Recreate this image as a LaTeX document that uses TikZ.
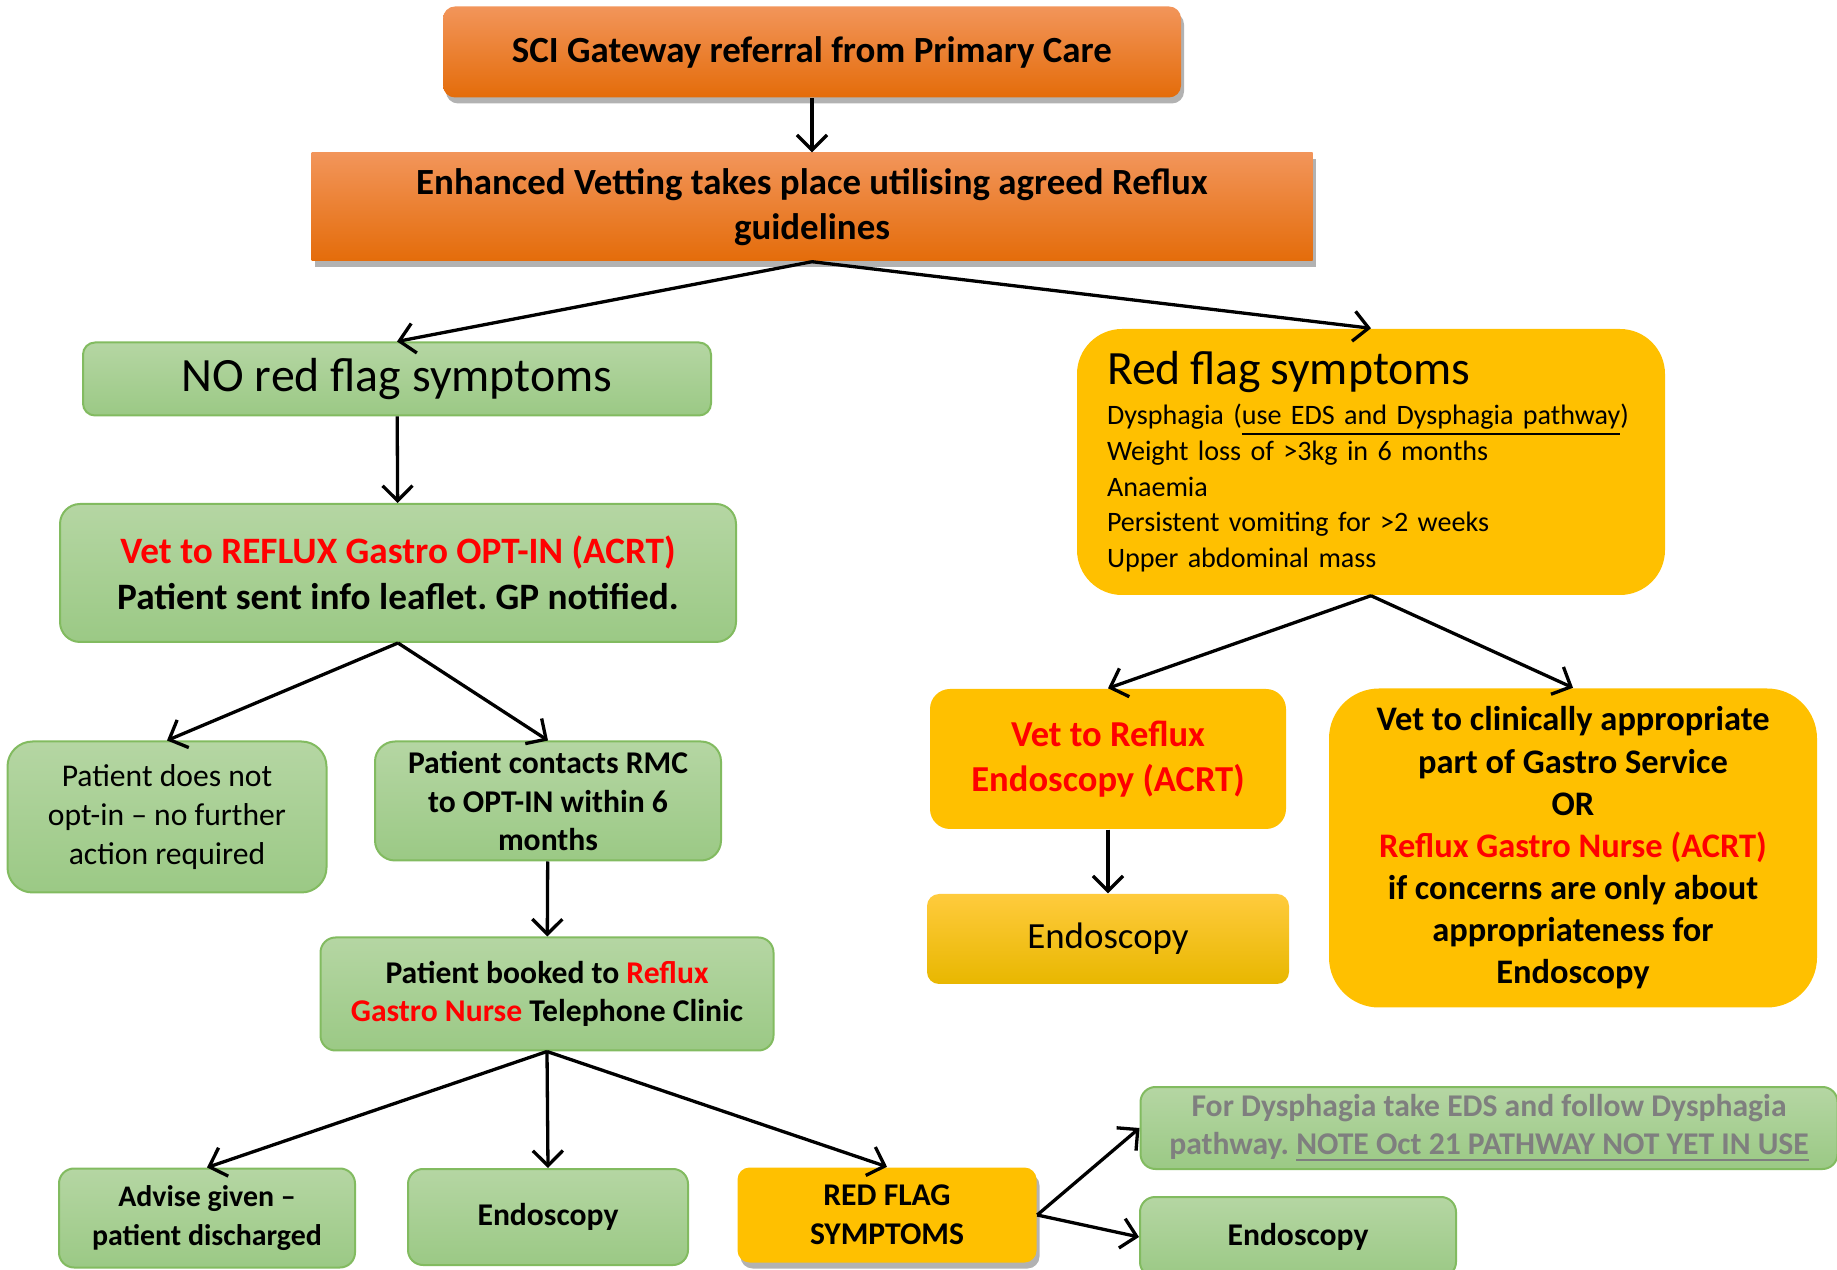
\documentclass[tikz,border=0pt]{standalone}
\usepackage{fontspec}
\setmainfont{Carlito}
\frenchspacing
\usetikzlibrary{arrows.meta,shadows}

\definecolor{orangetop}{HTML}{F2955A}
\definecolor{orangebot}{HTML}{E46C0A}
\definecolor{greentop}{HTML}{B5D6A3}
\definecolor{greenbot}{HTML}{9BC985}
\definecolor{greenline}{HTML}{82BB60}
\definecolor{flagyellow}{HTML}{FFC000}
\definecolor{endotop}{HTML}{FFCB3D}
\definecolor{endobot}{HTML}{E8B700}
\definecolor{redtext}{HTML}{FF0000}
\definecolor{greytext}{HTML}{7F7F7F}

\newcommand\boxsize[2]{\fontsize{#1}{#2}\selectfont}

\tikzset{
  box/.style={align=center, inner sep=0pt},
  boxshadow/.style={drop shadow={shadow xshift=.3mm, shadow yshift=-.6mm,
      fill=black, opacity=.3}},
  orangebox/.style={box, boxshadow, top color=orangetop, bottom color=orangebot,
    font=\boxsize{10.5}{12.7}\bfseries},
  greenbox/.style={box, draw=greenline, line width=.2mm, top color=greentop,
    bottom color=greenbot, rounded corners=1.5mm, font=\boxsize{9}{11}\bfseries},
  yellowbox/.style={box, fill=flagyellow, rounded corners=2mm,
    font=\boxsize{9}{11}\bfseries},
  flow/.style={-{Straight Barb[length=1.5mm,width=3mm]}, line width=.33mm},
}

\begin{document}
\begin{tikzpicture}[x=.1mm,y=-.1mm] %% 1 unit = 1 pixel of the sheet
  \clip (0,0) rectangle (1837,1270);

  %% vetting
  \node[orangebox, rounded corners=1.2mm, minimum width=73.8mm,
    minimum height=9.1mm] (sci) at (812,52)
    {SCI Gateway referral from Primary Care};
  \node[orangebox, minimum width=100.1mm, minimum height=10.8mm] (vetting)
    at (812,207) {Enhanced Vetting takes place utilising agreed Reflux\\guidelines};

  %% no red flag branch
  \node[greenbox, rounded corners=1.2mm, minimum width=62.8mm,
    minimum height=7.3mm, font=\boxsize{13.6}{16}] (nored) at (397,379)
    {NO red flag symptoms};
  \node[greenbox, rounded corners=2mm, minimum width=67.6mm,
    minimum height=13.8mm, font=\boxsize{10.6}{13}\bfseries] (optin) at (398,573)
    {\textcolor{redtext}{Vet to REFLUX Gastro OPT-IN (ACRT)}\\
     Patient sent info leaflet. GP notified.};
  \node[greenbox, rounded corners=2.5mm, minimum width=31.9mm,
    minimum height=15.1mm, font=\boxsize{9}{11}] (noopt) at (167,817)
    {Patient does not\\opt-in -- no further\\action required};
  \node[greenbox, rounded corners=2mm, minimum width=34.6mm,
    minimum height=11.9mm] (contacts) at (548,801)
    {Patient contacts RMC\\to OPT-IN within 6\\months};
  \node[greenbox, minimum width=45.3mm, minimum height=11.3mm] (booked)
    at (547,994) {Patient booked to \textcolor{redtext}{Reflux}\\
     \textcolor{redtext}{Gastro Nurse} Telephone Clinic};
  \node[greenbox, minimum width=29.6mm, minimum height=9.9mm,
    font=\boxsize{8.5}{11}\bfseries] (advise) at (207,1218)
    {Advise given --\\patient discharged};
  \node[greenbox, minimum width=28mm, minimum height=9.6mm] (endoA)
    at (548,1217) {Endoscopy};
  \node[yellowbox, boxshadow, rounded corners=1.2mm, minimum width=29.9mm,
    minimum height=9.5mm] (redsym) at (887,1215) {RED FLAG\\SYMPTOMS};
  \node[greenbox, text=greytext, minimum width=69.7mm, minimum height=8.2mm]
    (dysph) at (1489,1128) {For Dysphagia take EDS and follow Dysphagia\\
     pathway. \underline{NOTE Oct 21 PATHWAY NOT YET IN USE}};
  \node[greenbox, minimum width=31.6mm, minimum height=8mm] (endoC)
    at (1298,1237) {Endoscopy};

  %% red flag branch
  \node[yellowbox, rounded corners=4.5mm, minimum width=58.8mm,
    minimum height=26.6mm, text width=52.8mm, align=left,
    font=\boxsize{8}{10.2}] (redflag) at (1371,462)
    {{\boxsize{13.6}{16}Red flag symptoms}\\[1pt]
     Dysphagia (\underline{use EDS and Dysphagia pathway})\\
     Weight loss of >3kg in 6 months\\
     Anaemia\\
     Persistent vomiting for >2 weeks\\
     Upper abdominal mass};
  \node[yellowbox, minimum width=35.6mm, minimum height=14mm, text=redtext,
    font=\boxsize{10.4}{12.7}\bfseries] (vetendo) at (1108,759)
    {Vet to Reflux\\Endoscopy (ACRT)};
  \node[box, top color=endotop, bottom color=endobot, rounded corners=1.2mm,
    minimum width=36.2mm, minimum height=9mm, font=\boxsize{10.5}{13}]
    (endoB) at (1108,939) {Endoscopy};
  \node[yellowbox, rounded corners=5mm, minimum width=48.8mm,
    minimum height=31.9mm, font=\boxsize{9.8}{12}\bfseries] (clin) at (1573,848)
    {Vet to clinically appropriate\\part of Gastro Service\\OR\\
     \textcolor{redtext}{Reflux Gastro Nurse (ACRT)}\\if concerns are only about\\
     appropriateness for\\Endoscopy};

  %% connectors
  \draw[flow] (sci) -- (vetting);
  \draw[flow] (vetting.south) -- (nored.north);
  \draw[flow] (vetting.south) -- (redflag.north);
  \draw[flow] (nored) -- (optin);
  \draw[flow] (optin.south) -- (noopt.north);
  \draw[flow] (optin.south) -- (contacts.north);
  \draw[flow] (contacts) -- (booked);
  \draw[flow] (booked.south) -- (advise.north);
  \draw[flow] (booked.south) -- (endoA.north);
  \draw[flow] (booked.south) -- (redsym.north);
  \draw[flow] (redsym.east) -- (dysph.west);
  \draw[flow] (redsym.east) -- (endoC.west);
  \draw[flow] (redflag.south) -- (vetendo.north);
  \draw[flow] (redflag.south) -- (clin.north);
  \draw[flow] (vetendo) -- (endoB);
\end{tikzpicture}
\end{document}
